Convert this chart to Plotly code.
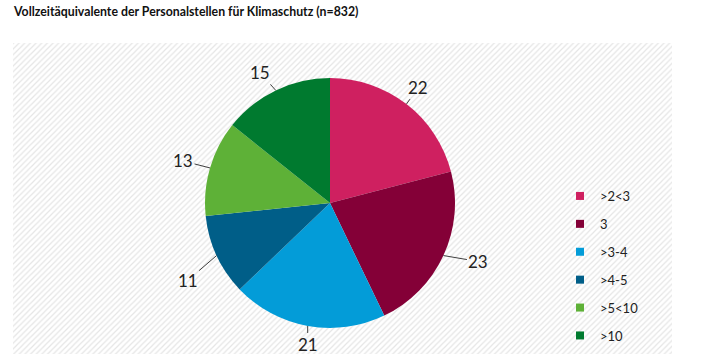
import math
import plotly.graph_objects as go

# ---- data ----
title_text = "Vollzeitäquivalente der Personalstellen für Klimaschutz (n=832)"
categories = [">2<3", "3", ">3-4", ">4-5", ">5<10", ">10"]
values = [22, 23, 21, 11, 13, 15]
colors = ["#CF2060", "#840037", "#039CD8", "#005E88", "#5EB137", "#007A2F"]

# ---- layout constants (pixels) ----
W, H = 707, 354
CX, CY, R = 330, 203, 125
FONT = "Lato"
# label placement offsets (pixels) from each slice's outer edge midpoint
label_offsets = [(12, -17), (35, 6), (0, 19), (-29, 25), (-27, -7), (-16, -18)]

def px(x):
    return x / W

def py(y):
    return 1 - y / H

fig = go.Figure()

# hatched background panel
bx0, bx1, by0, by1 = 13, 672, 43, 354
fig.add_trace(go.Scatter(
    x=[px(bx0), px(bx1), px(bx1), px(bx0), px(bx0)],
    y=[py(by0), py(by0), py(by1), py(by1), py(by0)],
    mode="lines", fill="toself", line=dict(width=0),
    fillcolor="white",
    fillpattern=dict(shape="/", size=4, solidity=0.3, fgcolor="#CBCBCB", bgcolor="white"),
    hoverinfo="skip", showlegend=False,
))

fig.add_trace(go.Pie(
    labels=categories, values=values, sort=False, direction="clockwise",
    rotation=0, marker=dict(colors=colors, line=dict(width=0)),
    textinfo="none", hoverinfo="label+value", showlegend=False,
    domain=dict(x=[px(CX - R), px(CX + R)], y=[py(CY + R), py(CY - R)]),
))

# legend entries
for cat, col in zip(categories, colors):
    fig.add_trace(go.Scatter(
        x=[None], y=[None], mode="markers", name=cat, legendgroup=cat,
        marker=dict(symbol="square", size=8, color=col),
    ))

# outside value labels with leader lines
total = sum(values)
cum = 0
annotations = []
for v, (dx, dy) in zip(values, label_offsets):
    mid = (cum + v / 2) / total * 2 * math.pi
    cum += v
    ex, ey = CX + R * math.sin(mid), CY - R * math.cos(mid)
    annotations.append(dict(
        x=px(ex), y=py(ey), xref="paper", yref="paper",
        ax=dx, ay=dy, axref="pixel", ayref="pixel",
        text=str(v), showarrow=True, arrowhead=0, arrowwidth=1,
        arrowcolor="#404040", standoff=0,
        font=dict(family=FONT, size=17, color="#222222"),
    ))

fig.update_layout(
    width=W, height=H, margin=dict(l=0, r=0, t=0, b=0, autoexpand=False),
    paper_bgcolor="white", plot_bgcolor="rgba(0,0,0,0)",
    xaxis=dict(range=[0, 1], domain=[0, 1], visible=False, fixedrange=True),
    yaxis=dict(range=[0, 1], domain=[0, 1], visible=False, fixedrange=True),
    title=dict(text="<b>" + title_text + "</b>", x=px(14), xanchor="left", xref="paper",
               y=py(12), yanchor="middle", yref="paper",
               font=dict(family=FONT, size=12.3, color="#111111")),
    legend=dict(x=px(560), xanchor="left", y=py(181), yanchor="top",
                tracegroupgap=8, itemwidth=30, bgcolor="rgba(0,0,0,0)",
                font=dict(family=FONT, size=13, color="#222222")),
    annotations=annotations,
    showlegend=True,
)

fig.write_html("out.html")
